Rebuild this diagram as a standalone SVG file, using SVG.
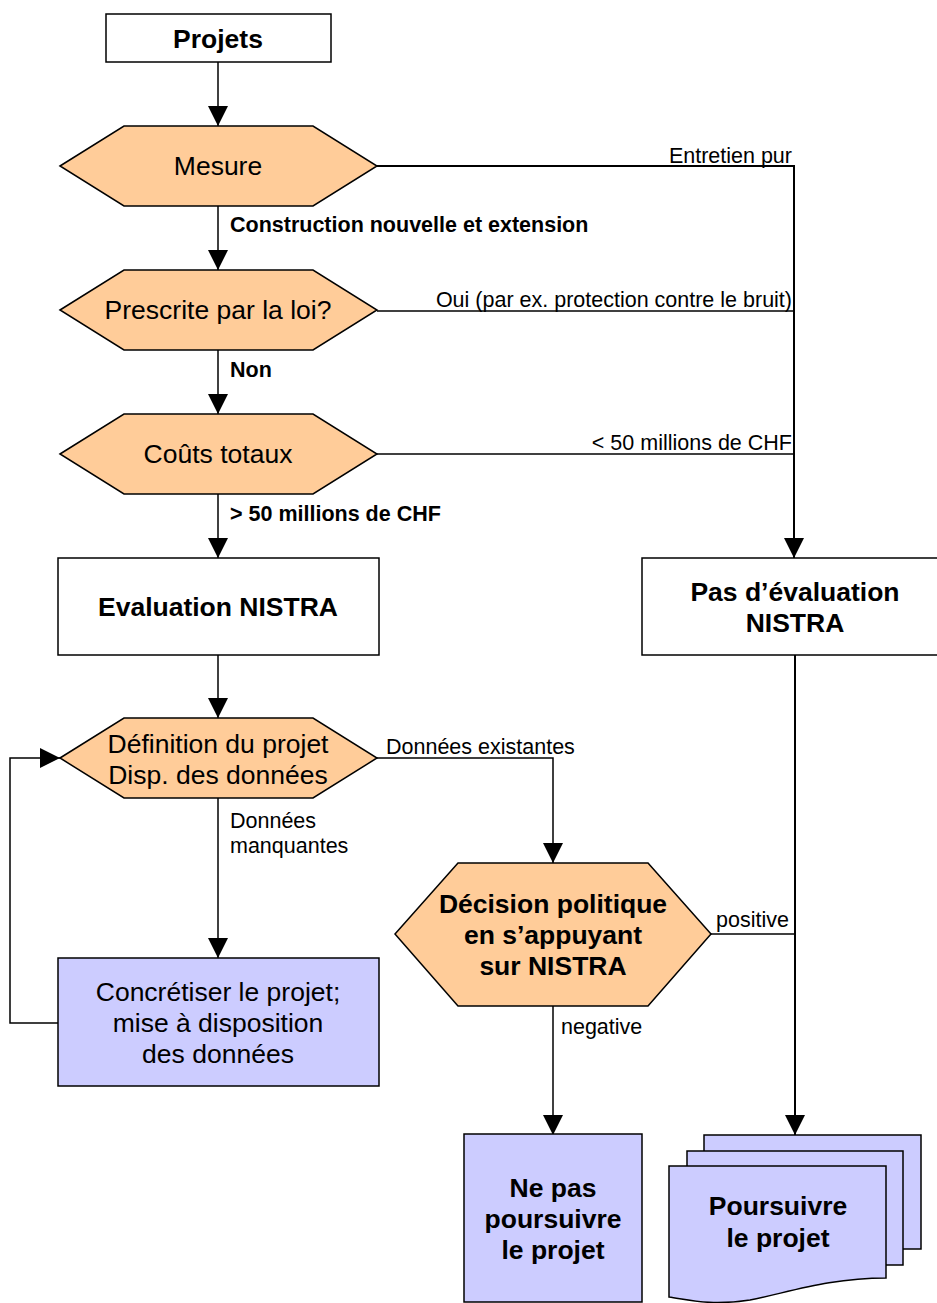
<svg xmlns="http://www.w3.org/2000/svg" width="937" height="1303" viewBox="0 0 937 1303">
<style>
.box{fill:#fff;stroke:#000;stroke-width:1.5}
.hex{fill:#ffcc99;stroke:#000;stroke-width:1.5}
.blue{fill:#ccccff;stroke:#000;stroke-width:1.5}
.ln{fill:none;stroke:#000;stroke-width:1.5}
.lnb{fill:none;stroke:#000;stroke-width:2}
text{font-family:"Liberation Sans",Arial,sans-serif;fill:#000}
.nt{font-size:26.5px;text-anchor:middle}
.nb{font-size:26.5px;font-weight:bold;text-anchor:middle}
.lb{font-size:21.5px}
.lbb{font-size:21.5px;font-weight:bold}
.r{text-anchor:end}
</style>
<defs>
<marker id="ah" markerWidth="20" markerHeight="20" refX="20" refY="10" orient="auto" markerUnits="userSpaceOnUse">
<path d="M0,0 L20,10 L0,20 Z" fill="#000"/>
</marker>
</defs>
<g id="connectors">
<line class="ln" x1="218" y1="62" x2="218" y2="126" marker-end="url(#ah)"/>
<line class="ln" x1="218" y1="206" x2="218" y2="270" marker-end="url(#ah)"/>
<line class="ln" x1="218" y1="350" x2="218" y2="414" marker-end="url(#ah)"/>
<line class="ln" x1="218" y1="494" x2="218" y2="558" marker-end="url(#ah)"/>
<line class="ln" x1="218" y1="655" x2="218" y2="718" marker-end="url(#ah)"/>
<line class="ln" x1="218" y1="798" x2="218" y2="958" marker-end="url(#ah)"/>
<polyline class="ln" points="58,1023 10,1023 10,758 60,758" marker-end="url(#ah)"/>
<polyline class="ln" points="377,758 553,758 553,863" marker-end="url(#ah)"/>
<line class="ln" x1="553" y1="1006" x2="553" y2="1135" marker-end="url(#ah)"/>
<line class="ln" x1="711" y1="934" x2="795" y2="934"/>
<polyline class="lnb" points="377,166 794,166 794,558" marker-end="url(#ah)"/>
<line class="ln" x1="377" y1="311" x2="794" y2="311"/>
<line class="ln" x1="377" y1="454" x2="794" y2="454"/>
<line class="lnb" x1="795" y1="655" x2="795" y2="1135" marker-end="url(#ah)"/>
<text class="lb r" x="792" y="163">Entretien pur</text>
<text class="lbb" x="230" y="232">Construction nouvelle et extension</text>
<text class="lb r" x="792" y="307">Oui (par ex. protection contre le bruit)</text>
<text class="lbb" x="230" y="377">Non</text>
<text class="lb r" x="792" y="450">&lt; 50 millions de CHF</text>
<text class="lbb" x="230" y="521">&gt; 50 millions de CHF</text>
<text class="lb" x="386" y="754">Données existantes</text>
<text class="lb" x="230" y="828">Données</text>
<text class="lb" x="230" y="853">manquantes</text>
<text class="lb" x="716" y="927">positive</text>
<text class="lb" x="561" y="1034">negative</text>
</g>
<g id="projets">
<rect class="box" x="106" y="14" width="225" height="48"/>
<text class="nb" x="218" y="48">Projets</text>
</g>
<g id="mesure">
<polygon class="hex" points="60,166 124,126 313,126 377,166 313,206 124,206"/>
<text class="nt" x="218" y="175">Mesure</text>
</g>
<g id="prescrite">
<polygon class="hex" points="60,310 124,270 313,270 377,310 313,350 124,350"/>
<text class="nt" x="218" y="319">Prescrite par la loi?</text>
</g>
<g id="couts">
<polygon class="hex" points="60,454 124,414 313,414 377,454 313,494 124,494"/>
<text class="nt" x="218" y="463">Coûts totaux</text>
</g>
<g id="evaluation">
<rect class="box" x="58" y="558" width="321" height="97"/>
<text class="nb" x="218" y="616">Evaluation NISTRA</text>
</g>
<g id="pas-evaluation">
<rect class="box" x="642" y="558" width="300" height="97"/>
<text class="nb" x="795" y="601">Pas d’évaluation</text>
<text class="nb" x="795" y="632">NISTRA</text>
</g>
<g id="definition">
<polygon class="hex" points="60,758 124,718 313,718 377,758 313,798 124,798"/>
<text class="nt" x="218" y="753">Définition du projet</text>
<text class="nt" x="218" y="784">Disp. des données</text>
</g>
<g id="concretiser">
<rect class="blue" x="58" y="958" width="321" height="128"/>
<text class="nt" x="218" y="1001">Concrétiser le projet;</text>
<text class="nt" x="218" y="1032">mise à disposition</text>
<text class="nt" x="218" y="1063">des données</text>
</g>
<g id="decision">
<polygon class="hex" points="395,934 458,863 648,863 711,934 648,1006 458,1006"/>
<text class="nb" x="553" y="913">Décision politique</text>
<text class="nb" x="553" y="944">en s’appuyant</text>
<text class="nb" x="553" y="975">sur NISTRA</text>
</g>
<g id="ne-pas">
<rect class="blue" x="464" y="1134" width="178" height="168"/>
<text class="nb" x="553" y="1197">Ne pas</text>
<text class="nb" x="553" y="1228">poursuivre</text>
<text class="nb" x="553" y="1259">le projet</text>
</g>
<g id="poursuivre">
<path class="blue" d="M704,1151 L704,1135 L921,1135 L921,1249 L903,1249"/>
<path class="blue" d="M687,1166 L687,1151 L903,1151 L903,1265 L886,1265"/>
<path class="blue" d="M669,1166 L886,1166 L886,1278 C830,1278 790,1292 750,1300 C710,1306 690,1300 669,1297 Z"/>
<text class="nb" x="778" y="1215">Poursuivre</text>
<text class="nb" x="778" y="1247">le projet</text>
</g>
</svg>
